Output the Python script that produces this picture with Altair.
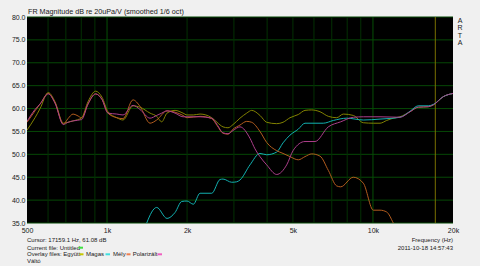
import altair as alt
import pandas as pd

# ---------------- data ----------------
egyutt_f = [500, 536, 560, 601, 637, 685, 713, 745, 803, 848, 906, 957, 1008, 1088, 1148, 1252, 1330,
            1451, 1537, 1605, 1681, 1802, 1931, 1999, 2111, 2237, 2476, 2592, 2730, 2850, 2977, 3162,
            3351, 3499, 3759, 3984, 4345, 4589, 4876, 5239, 5552, 5884, 6324, 6794, 7304, 7734, 8436,
            9200, 10033, 10631, 11265, 11926, 12635, 13780, 14806, 16150, 16865, 18392, 20000]
egyutt_db = [55.3, 58.0, 60.0, 63.5, 61.5, 56.8, 57.0, 57.3, 58.0, 61.5, 63.8, 62.5, 59.3, 58.0, 57.5, 60.6, 60.3,
             59.0, 58.3, 57.1, 59.0, 59.6, 59.0, 58.6, 58.6, 58.8, 58.0, 57.0, 56.0, 55.8, 56.5, 57.9,
             59.0, 59.6, 58.5, 57.0, 56.7, 57.0, 58.0, 58.7, 59.6, 59.7, 59.3, 58.3, 58.0, 58.8, 58.5,
             56.9, 56.8, 56.8, 57.4, 57.9, 58.2, 59.3, 60.3, 60.4, 60.8, 62.6, 63.3]

magas_f = [1380, 1410, 1537, 1681, 1802, 1909, 1999, 2111, 2237, 2476, 2659, 2730, 2943, 3073, 3162,
           3448, 3759, 3984, 4345, 4589, 4876, 5239, 5552, 6505, 7096, 7970, 9200, 10631, 12635,
           13780, 14806, 16150, 16865, 18392, 20000]
magas_db = [33.5, 35.0, 38.4, 36.0, 37.3, 39.7, 39.8, 39.1, 41.5, 41.5, 44.5, 44.6, 43.9, 44.0, 44.4,
            47.7, 50.2, 49.9, 50.5, 52.5, 54.2, 55.5, 56.8, 56.8, 57.4, 57.9, 57.5, 57.7, 58.1,
            59.4, 60.6, 60.6, 60.9, 62.6, 63.3]

mely_f = [500, 536, 560, 601, 637, 685, 713, 745, 771, 803, 848, 906, 957, 1008, 1088, 1148, 1252, 1330,
          1451, 1537, 1681, 1802, 1931, 1999, 2237, 2476, 2592, 2730, 2850, 2977, 3162, 3351, 3499,
          3759, 3984, 4345, 4589, 4876, 5239, 5552, 5884, 6324, 6794, 7304, 7560, 8436, 9200, 10033,
          10631, 11265, 11926, 12400]
mely_db = [57.0, 59.5, 61.0, 63.3, 61.3, 56.6, 57.8, 58.8, 58.5, 58.0, 61.0, 63.2, 62.0, 59.0, 58.0, 57.8, 61.9, 60.5,
           56.8, 57.5, 59.5, 59.2, 58.5, 58.0, 58.3, 57.8, 56.3, 54.6, 54.4, 55.5, 56.4, 57.2, 57.0,
           55.0, 52.6, 50.8, 50.2, 49.5, 48.8, 49.5, 50.1, 49.6, 46.5, 43.1, 42.9, 45.0, 43.7, 37.8,
           37.8, 37.4, 35.0, 33.0]

polar_f = [500, 536, 560, 601, 637, 685, 713, 745, 803, 848, 906, 957, 1008, 1088, 1148, 1252, 1330,
           1451, 1537, 1605, 1681, 1802, 1931, 2237, 2476, 2592, 2730, 2850, 2977, 3162, 3448, 3600,
           3759, 3984, 4345, 4738, 5017, 5552, 6054, 6794, 7560, 8436, 9200, 10631, 12635, 13780,
           14806, 16150, 16865, 18392, 20000]
polar_db = [57.2, 59.8, 61.0, 63.2, 61.2, 56.5, 57.0, 57.3, 57.6, 61.0, 63.2, 62.0, 59.0, 58.8, 58.6, 60.7, 59.8,
            57.9, 58.5, 59.0, 59.5, 59.0, 58.2, 58.2, 57.9, 56.5, 54.7, 54.5, 55.2, 56.0, 53.5, 51.2,
            49.5, 47.7, 45.6, 47.7, 50.9, 52.8, 52.8, 56.0, 57.1, 58.1, 58.2, 58.2, 58.1, 59.3,
            60.3, 60.4, 60.8, 62.6, 63.3]

series_names = ["Együtt", "Magas", "Mély", "Polarizált"]
series_colors = ["#828200", "#12b0b0", "#b25c1e", "#ac3e8a"]

hgrid_db = [35, 40, 45, 50, 55, 60, 65, 70, 75, 80]
vgrid_minor = [600, 700, 800, 900, 2000, 3000, 4000, 5000, 6000, 7000, 8000, 9000]
vgrid_major = [1000, 10000]
x_ticks = [500, 1000, 2000, 5000, 10000, 20000]
cursor_hz = [17159.1]

# ---------------- build tables ----------------
rows = []
for name, fs, ds in [("Együtt", egyutt_f, egyutt_db), ("Magas", magas_f, magas_db),
                     ("Mély", mely_f, mely_db), ("Polarizált", polar_f, polar_db)]:
    for f, d in zip(fs, ds):
        rows.append({"series": name, "f": f, "db": d})
curves = pd.DataFrame(rows)

xs = alt.Scale(type="log", domain=[500, 20000], nice=False)
ys = alt.Scale(domain=[35, 80], nice=False, zero=False)

FONT = "Liberation Sans"
TXT = "#202020"

yaxis = alt.Axis(values=hgrid_db, format=".1f", ticks=False, domain=False, grid=False,
                 labelOverlap=False, labelFlush=False,
                 labelFontSize=7, labelColor=TXT, labelFont=FONT, labelPadding=2, title=None)
xaxis = alt.Axis(values=x_ticks, ticks=False, domain=False, grid=False, labelFlush=False,
                 labelOverlap=False,
                 labelExpr="datum.value >= 1000 ? (datum.value/1000) + 'k' : datum.value",
                 labelFontSize=7, labelColor=TXT, labelFont=FONT, labelPadding=3, title=None)

hgrid = alt.Chart(pd.DataFrame({"db": hgrid_db})).mark_rule(color="#064806", strokeWidth=1).encode(
    y=alt.Y("db:Q", scale=ys, axis=yaxis))

vminor = alt.Chart(pd.DataFrame({"f": vgrid_minor})).mark_rule(color="#033003", strokeWidth=1).encode(
    x=alt.X("f:Q", scale=xs, axis=xaxis))

vmajor = alt.Chart(pd.DataFrame({"f": vgrid_major})).mark_rule(color="#065006", strokeWidth=1).encode(
    x=alt.X("f:Q", scale=xs, axis=xaxis))

cursor = alt.Chart(pd.DataFrame({"f": cursor_hz})).mark_rule(color="#7a7000", strokeWidth=1).encode(
    x=alt.X("f:Q", scale=xs, axis=xaxis))

lines = alt.Chart(curves).mark_line(clip=True, interpolate="monotone", strokeWidth=1).encode(
    x=alt.X("f:Q", scale=xs, axis=xaxis),
    y=alt.Y("db:Q", scale=ys, axis=yaxis),
    color=alt.Color("series:N", scale=alt.Scale(domain=series_names, range=series_colors), legend=None),
    detail="series:N",
    order="f:Q",
)


def txt(s, x, y, align="left", size=6.0, color=TXT):
    return alt.Chart(pd.DataFrame({"t": [s]})).mark_text(
        align=align, baseline="middle", fontSize=size, font=FONT, color=color).encode(
        x=alt.value(x), y=alt.value(y), text="t:N")


def dash(x1, x2, y, color):
    return alt.Chart(pd.DataFrame({"a": [0]})).mark_rule(color=color, strokeWidth=2).encode(
        x=alt.value(x1), x2=alt.value(x2), y=alt.value(y))


annots = [
    txt("FR Magnitude dB re 20uPa/V (smoothed 1/6 oct)", 1, -5, size=7.2),
    txt("A", 433, 3.7, align="center", size=7), txt("R", 433, 11.3, align="center", size=7),
    txt("T", 433, 18.7, align="center", size=7), txt("A", 433, 25.7, align="center", size=7),
    txt("Cursor: 17159.1 Hz, 61.08 dB", 0, 223),
    txt("Current file: Untitled", 0, 230.7),
    dash(51.5, 56, 230.7, "#40e040"),
    txt("Overlay files: Együtt", 0, 237.3),
    dash(52.5, 56.5, 237.3, "#c8c800"),
    txt("Magas", 59, 237.3),
    dash(78.5, 83, 237.3, "#40e0e0"),
    txt("Mély", 86, 237.3),
    dash(99.5, 103.5, 237.3, "#f08050"),
    txt("Polarizált", 105.7, 237.3),
    dash(130.5, 135, 237.3, "#f060c0"),
    txt("Váltó", 0, 244),
    txt("Frequency (Hz)", 426, 223, align="right"),
    txt("2011-10-18  14:57:43", 426, 230.7, align="right"),
]

chart = alt.layer(hgrid, vminor, vmajor, cursor, lines, *annots).properties(
    width=426, height=206,
    padding={"left": 27, "top": 17, "right": 27, "bottom": 43},
    autosize=alt.AutoSizeParams(type="none"),
    background="#f0f0f0",
).configure_view(fill="#000000", stroke=None).configure_axis(labelOverlap=False)

chart.save("out.html", embed_options={"renderer": "svg", "actions": False})
